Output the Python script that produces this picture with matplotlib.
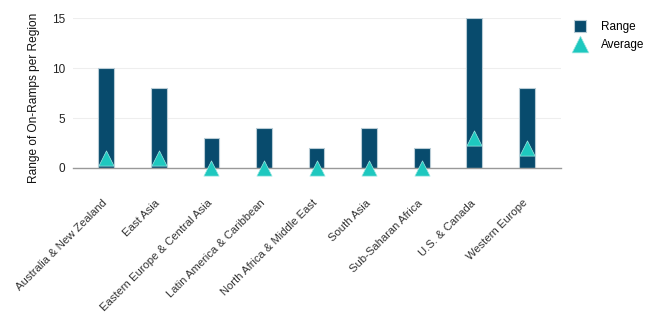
import matplotlib.pyplot as plt
import matplotlib.transforms as mtransforms
import numpy as np

plt.rcParams['font.family'] = ['Liberation Sans', 'DejaVu Sans']

# Data
regions = ['Australia & New Zealand', 'East Asia', 'Eastern Europe & Central Asia',
           'Latin America & Caribbean', 'North Africa & Middle East', 'South Asia',
           'Sub-Saharan Africa', 'U.S. & Canada', 'Western Europe']
range_vals = [10, 8, 3, 4, 2, 4, 2, 15, 8]
avg_vals = [1, 1, 0, 0, 0, 0, 0, 3, 2]

bar_color = '#084b6d'
tri_color = '#1ec8bf'

fig = plt.figure(figsize=(6.6, 3.3), dpi=100)
ax = fig.add_axes([0.111, 0.491, 0.739, 0.454])

x = np.arange(len(regions))
bars = ax.bar(x, range_vals, width=0.3, color=bar_color, edgecolor='#b9ccd6',
              linewidth=0.8, label='Range', zorder=2)
tris = ax.scatter(x, avg_vals, marker='^', s=120, color=tri_color, edgecolor='#9fe6e2',
                  linewidth=0.5, label='Average', zorder=3, clip_on=False)

ax.set_xlim(-0.63, 8.65)
ax.set_ylim(0, 15)
ax.set_yticks([0, 5, 10, 15])
ax.grid(axis='y', color='#eeeeee', linewidth=0.8, zorder=0)
ax.set_axisbelow(True)

for s in ['top', 'right', 'left']:
    ax.spines[s].set_visible(False)
ax.spines['bottom'].set_color('#999999')
ax.spines['bottom'].set_linewidth(1)

ax.tick_params(axis='y', length=0, labelsize=8.5, pad=6, labelcolor='#222222')
ax.tick_params(axis='x', length=0, pad=21.5)
ax.set_xticks(x)
ax.set_xticklabels(regions, rotation=45, ha='right', rotation_mode='anchor',
                   fontsize=8.1, color='#333333')
offset = mtransforms.ScaledTranslation(-4 / 100, 0, fig.dpi_scale_trans)
for lbl in ax.get_xticklabels():
    lbl.set_transform(lbl.get_transform() + offset)

ax.set_ylabel('Range of On-Ramps per Region', fontsize=8.6, color='#111111')
ax.yaxis.set_label_coords(-0.068, 0.467)

ax.legend([bars, tris], ['Range', 'Average'], loc='upper left',
          bbox_to_anchor=(1.005, 1.06), frameon=False,
          fontsize=8.5, handlelength=1.0, handleheight=1.2, handletextpad=1.3,
          labelspacing=0.45, markerscale=1.1, scatterpoints=1)

fig.savefig('out.png', dpi=100)
